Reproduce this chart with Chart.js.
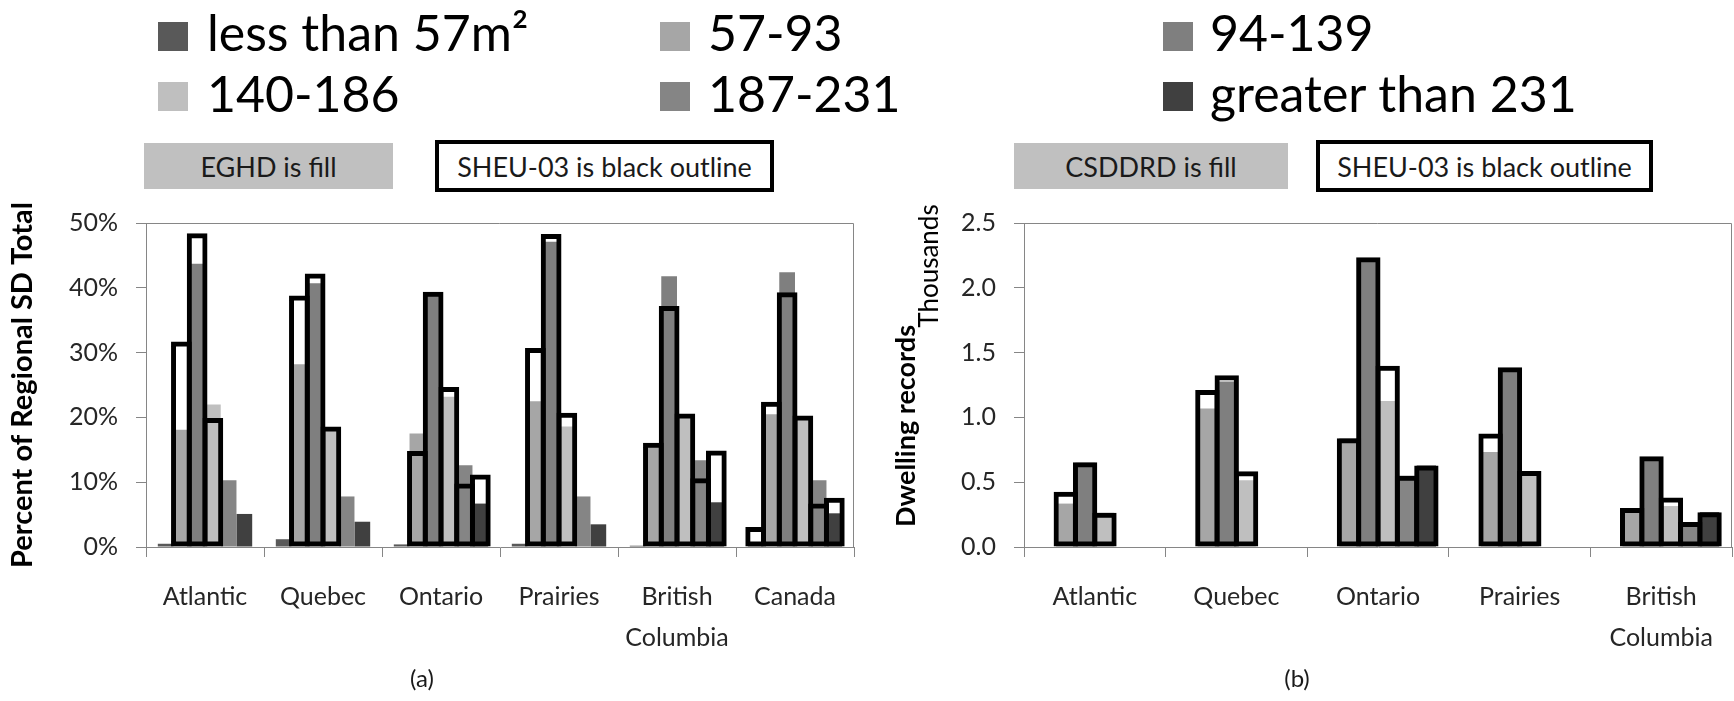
<!DOCTYPE html>
<html>
<head>
<meta charset="utf-8">
<script src="https://cdn.jsdelivr.net/npm/chart.js@4.4.1/dist/chart.umd.min.js"></script>
<style>
  html, body { margin: 0; padding: 0; background: #fff; }
  body { width: 1734px; height: 701px; position: relative; overflow: hidden; font-family: Lato, sans-serif; color: #000; }
  .sw { position: absolute; width: 30px; height: 29px; }
  .lt { position: absolute; font-size: 50px; line-height: 50px; white-space: nowrap; }
  .box { position: absolute; box-sizing: border-box; display: flex; align-items: center; justify-content: center; font-size: 27px; color: #1a1a1a; white-space: nowrap; }
  .fillbox { background: #c0c0c0; }
  .outbox { background: #fff; border: 4px solid #000; }
  .cap { position: absolute; font-size: 24px; color: #1a1a1a; transform: translateX(-50%); }
  canvas { position: absolute; }
</style>
</head>
<body>

<div id="legend"></div>

<div class="box fillbox" style="left:144px; top:143px; width:249px; height:46px;">EGHD is fill</div>
<div class="box outbox" style="left:435px; top:140px; width:339px; height:52px;">SHEU-03 is black outline</div>
<div class="box fillbox" style="left:1014px; top:143px; width:274px; height:46px;">CSDDRD is fill</div>
<div class="box outbox" style="left:1316px; top:140px; width:337px; height:52px;">SHEU-03 is black outline</div>

<div style="position:absolute; left:0; top:190px; width:870px; height:480px;"><canvas id="chartA" width="870" height="480"></canvas></div>
<div style="position:absolute; left:880px; top:190px; width:854px; height:480px;"><canvas id="chartB" width="854" height="480"></canvas></div>

<div class="cap" style="left:422px; top:663px;">(a)</div>
<div class="cap" style="left:1297px; top:663px;">(b)</div>

<script>
// Floor-area bins (m²)
const sizeBins = ['less than 57m²', '57-93', '94-139', '140-186', '187-231', 'greater than 231'];
const binColors = ['#595959', '#a6a6a6', '#7f7f7f', '#bfbfbf', '#858585', '#404040'];

// (a) share of regional single-detached total, percent
const regionsA = ['Atlantic', 'Quebec', 'Ontario', 'Prairies', ['British', 'Columbia'], 'Canada'];
const percentTicks = [0, 10, 20, 30, 40, 50];

const eghdLt57   = [0.5, 1.2, 0.4, 0.5, 0.2, 0.5];
const eghd57_93  = [18.1, 28.2, 17.5, 22.5, 16.0, 20.5];
const eghd94_139 = [43.7, 40.7, 39.2, 47.1, 41.8, 42.4];
const eghd140_186 = [22.0, 18.1, 23.2, 18.6, 20.4, 20.1];
const eghd187_231 = [10.3, 7.8, 12.6, 7.8, 13.4, 10.3];
const eghdGt231  = [5.1, 3.9, 6.7, 3.5, 6.9, 5.2];

const sheuALt57   = [null, null, null, null, null, 3.1];
const sheuA57_93  = [31.7, 38.8, 14.8, 30.7, 16.1, 22.4];
const sheuA94_139 = [48.4, 42.2, 39.4, 48.3, 37.2, 39.3];
const sheuA140_186 = [19.9, 18.6, 24.7, 20.7, 20.6, 20.3];
const sheuA187_231 = [null, null, 9.8, null, 10.6, 6.7];
const sheuAGt231  = [null, null, 11.2, null, 14.9, 7.6];

// (b) dwelling records, thousands
const regionsB = ['Atlantic', 'Quebec', 'Ontario', 'Prairies', ['British', 'Columbia']];
const recordTicks = [0, 0.5, 1.0, 1.5, 2.0, 2.5];

const csddrdLt57   = [null, null, null, null, null];
const csddrd57_93  = [0.335, 1.068, 0.840, 0.733, 0.301];
const csddrd94_139 = [0.650, 1.277, 2.230, 1.370, 0.667];
const csddrd140_186 = [0.265, 0.515, 1.126, 0.587, 0.316];
const csddrd187_231 = [null, null, 0.549, null, 0.158];
const csddrdGt231  = [null, null, 0.629, null, 0.269];

const sheuBLt57   = [null, null, null, null, null];
const sheuB57_93  = [0.427, 1.211, 0.840, 0.876, 0.301];
const sheuB94_139 = [0.653, 1.325, 2.235, 1.386, 0.701];
const sheuB140_186 = [0.265, 0.585, 1.398, 0.587, 0.381];
const sheuB187_231 = [null, null, 0.549, null, 0.192];
const sheuBGt231  = [null, null, 0.629, null, 0.269];

// ---- shared legend (HTML) ----
const legendSlots = [
  { bin: 0, sx: 158, tx: 207, row: 0 },
  { bin: 1, sx: 660, tx: 708, row: 0 },
  { bin: 2, sx: 1163, tx: 1210, row: 0 },
  { bin: 3, sx: 158, tx: 207, row: 1 },
  { bin: 4, sx: 660, tx: 708, row: 1 },
  { bin: 5, sx: 1163, tx: 1210, row: 1 }
];
const legendEl = document.getElementById('legend');
legendSlots.forEach(s => {
  const sw = document.createElement('div');
  sw.className = 'sw';
  sw.style.left = s.sx + 'px';
  sw.style.top = (22 + s.row * 60) + 'px';
  sw.style.background = binColors[s.bin];
  legendEl.appendChild(sw);
  const t = document.createElement('div');
  t.className = 'lt';
  t.style.left = s.tx + 'px';
  t.style.top = (7 + s.row * 61) + 'px';
  t.textContent = sizeBins[s.bin];
  legendEl.appendChild(t);
});

// ---- chart helpers ----
Chart.defaults.font.family = 'Lato, sans-serif';
Chart.defaults.color = '#262626';

const AXIS_GREY = '#868686';
const OUTLINE_W = 5;

const plotFrame = {
  id: 'plotFrame',
  beforeDatasetsDraw(chart) {
    const { ctx, chartArea: a } = chart;
    ctx.save();
    ctx.strokeStyle = AXIS_GREY;
    ctx.lineWidth = 1;
    ctx.beginPath();
    ctx.moveTo(a.left, a.top + 0.5);
    ctx.lineTo(a.right - 0.5, a.top + 0.5);
    ctx.lineTo(a.right - 0.5, a.bottom);
    ctx.stroke();
    ctx.restore();
  }
};

// Each bin gets its own slot ("stack" id); the fill bar and the outline bar
// of a bin share that slot and overlap (values are not summed: y is unstacked).
function fillSets(series, catPct) {
  return series.map((data, i) => ({
    label: sizeBins[i] + ' (fill)',
    data,
    stack: 'bin' + i,
    order: 1,
    backgroundColor: binColors[i],
    borderWidth: 0,
    categoryPercentage: catPct,
    barPercentage: 1
  }));
}

function outlineSets(series, catPct, widen) {
  return series.map((data, i) => ({
    label: sizeBins[i] + ' (outline)',
    data,
    stack: 'bin' + i,
    order: 0,
    backgroundColor: 'rgba(0,0,0,0)',
    borderColor: '#000',
    borderWidth: OUTLINE_W,
    borderSkipped: false,
    inflateAmount: 0,
    categoryPercentage: catPct,
    barPercentage: widen
  }));
}

function buildChart(canvasId, cfg) {
  const tickFont = { size: 25, lineHeight: 1.64 };
  return new Chart(document.getElementById(canvasId), {
    type: 'bar',
    data: {
      labels: cfg.labels,
      datasets: [
        ...outlineSets(cfg.outline, cfg.catPct, cfg.widen),
        ...fillSets(cfg.fill, cfg.catPct)
      ]
    },
    options: {
      responsive: false,
      animation: false,
      layout: { padding: { top: 13, right: cfg.rightPad, left: 0, bottom: 0 } },
      plugins: { legend: { display: false }, tooltip: { enabled: false } },
      scales: {
        x: {
          type: 'category',
          stacked: true,
          offset: true,
          grid: { display: true, offset: true, drawOnChartArea: false, drawTicks: true, tickLength: 10, color: AXIS_GREY },
          border: { display: true, color: AXIS_GREY, width: 1 },
          ticks: { font: tickFont, padding: 19, maxRotation: 0, autoSkip: false, color: '#262626' },
          afterFit: s => { s.height = 123; }
        },
        y: {
          stacked: false,
          min: 0,
          max: cfg.ticks[cfg.ticks.length - 1],
          afterBuildTicks: s => { s.ticks = cfg.ticks.map(v => ({ value: v })); },
          grid: { display: true, drawOnChartArea: false, drawTicks: true, tickLength: 10, color: AXIS_GREY },
          border: { display: true, color: AXIS_GREY, width: 1 },
          ticks: { font: { size: 25 }, padding: 18, color: '#262626', callback: cfg.tickText },
          title: cfg.title,
          afterFit: s => { s.width = cfg.axisWidth; }
        }
      }
    },
    plugins: [plotFrame].concat(cfg.extraPlugins || [])
  });
}

// (a)
buildChart('chartA', {
  labels: regionsA,
  fill: [eghdLt57, eghd57_93, eghd94_139, eghd140_186, eghd187_231, eghdGt231],
  outline: [sheuALt57, sheuA57_93, sheuA94_139, sheuA140_186, sheuA187_231, sheuAGt231],
  catPct: 0.8,
  widen: (0.8 * 708 / 36 + OUTLINE_W) / (0.8 * 708 / 36),
  ticks: percentTicks,
  tickText: v => v + '%',
  title: {
    display: true,
    text: 'Percent of Regional SD Total',
    font: { size: 29, weight: 'bold' },
    color: '#000',
    padding: { top: 5, bottom: 0 }
  },
  axisWidth: 146,
  rightPad: 16
});

// (b) — axis title plus its display-unit caption, drawn beside the value axis
const recordsAxisTitle = {
  id: 'recordsAxisTitle',
  afterDraw(chart) {
    const { ctx } = chart;
    const put = (text, font, x, y) => {
      ctx.save();
      ctx.translate(x, y);
      ctx.rotate(-Math.PI / 2);
      ctx.font = font;
      ctx.fillStyle = '#000';
      ctx.textAlign = 'center';
      ctx.textBaseline = 'middle';
      ctx.fillText(text, 0, 0);
      ctx.restore();
    };
    put('Dwelling records', 'bold 27px Lato, sans-serif', 26, 236);
    put('Thousands', '26px Lato, sans-serif', 50, 76);
  }
};

buildChart('chartB', {
  labels: regionsB,
  fill: [csddrdLt57, csddrd57_93, csddrd94_139, csddrd140_186, csddrd187_231, csddrdGt231],
  outline: [sheuBLt57, sheuB57_93, sheuB94_139, sheuB140_186, sheuB187_231, sheuBGt231],
  catPct: 0.82,
  widen: (0.82 * 708 / 30 + OUTLINE_W) / (0.82 * 708 / 30),
  ticks: recordTicks,
  tickText: v => v.toFixed(1),
  title: { display: false },
  axisWidth: 144,
  rightPad: 2,
  extraPlugins: [recordsAxisTitle]
});
</script>
</body>
</html>
